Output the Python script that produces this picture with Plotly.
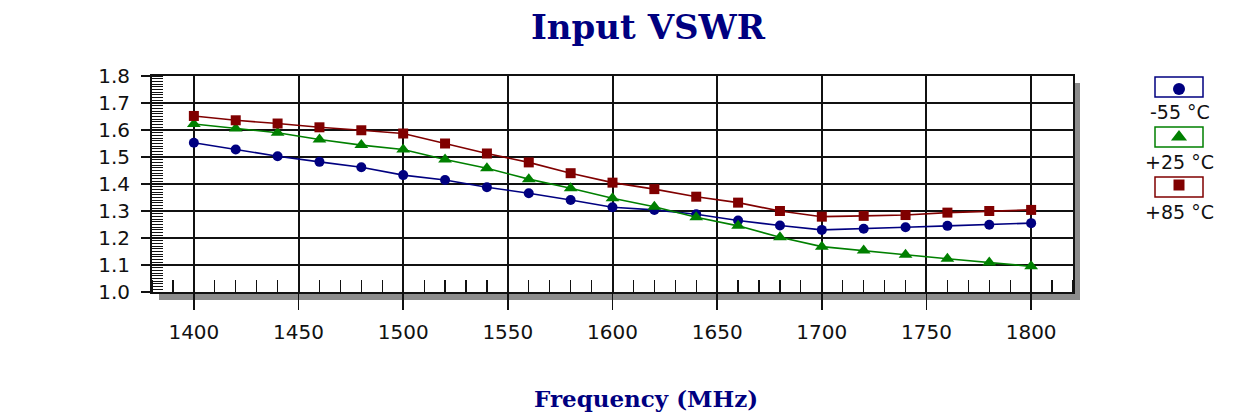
import plotly.graph_objects as go

freq = [1400, 1420, 1440, 1460, 1480, 1500, 1520, 1540, 1560, 1580, 1600,
        1620, 1640, 1660, 1680, 1700, 1720, 1740, 1760, 1780, 1800]
vswr_m55 = [1.553, 1.528, 1.503, 1.482, 1.462, 1.433, 1.415, 1.388, 1.366, 1.341, 1.314,
            1.304, 1.288, 1.265, 1.246, 1.230, 1.234, 1.240, 1.245, 1.249, 1.255]
vswr_p25 = [1.622, 1.606, 1.590, 1.565, 1.544, 1.528, 1.491, 1.458, 1.418, 1.384, 1.347,
            1.316, 1.277, 1.245, 1.203, 1.168, 1.154, 1.138, 1.123, 1.109, 1.095]
vswr_p85 = [1.652, 1.636, 1.624, 1.610, 1.599, 1.587, 1.550, 1.513, 1.480, 1.440, 1.405,
            1.381, 1.353, 1.331, 1.300, 1.279, 1.282, 1.285, 1.294, 1.300, 1.304]
series_names = ["-55 °C", "+25 °C", "+85 °C"]
x_ticks = [1400, 1450, 1500, 1550, 1600, 1650, 1700, 1750, 1800]
y_ticks = [1.0, 1.1, 1.2, 1.3, 1.4, 1.5, 1.6, 1.7, 1.8]

colors = ["#000080", "#008000", "#800000"]
symbols = ["circle", "triangle-up", "square"]
sizes = [10, 12, 10]
legend_sizes = [12, 14, 11]

W, H = 1233, 413
L, R, T, B = 152, 1073, 76, 292  # plot area pixel edges
PR = 1223  # paper right edge
pw, ph = PR - L, B - T


def px(x):
    return (x - L) / pw


def py(y):
    return (B - y) / ph


fig = go.Figure()
for name, vals, c, s, sz in zip(series_names, [vswr_m55, vswr_p25, vswr_p85], colors, symbols, sizes):
    fig.add_trace(go.Scatter(
        x=freq, y=vals, name=name, mode="lines+markers",
        line=dict(color=c, width=1.6),
        marker=dict(symbol=s, size=sz, color=c, opacity=1, line=dict(width=0)),
        showlegend=False, cliponaxis=False,
    ))

shapes = []
# drop shadow
shapes.append(dict(type="rect", xref="paper", yref="paper", layer="below",
                   x0=px(L + 7), x1=px(R + 7), y0=py(B + 8), y1=py(T + 7),
                   fillcolor="#8c8c8c", line=dict(width=0)))
shapes.append(dict(type="rect", xref="paper", yref="paper", layer="below",
                   x0=0, x1=px(R), y0=0, y1=1, fillcolor="white", line=dict(width=0)))

annotations = []
# legend boxes
box_tops = [77, 127, 177]
for i, (name, c) in enumerate(zip(series_names, colors)):
    t = box_tops[i]
    shapes.append(dict(type="rect", xref="paper", yref="paper", layer="below",
                       x0=px(1155), x1=px(1203), y0=py(t + 20), y1=py(t),
                       fillcolor="white", line=dict(color=c, width=1.5)))
    annotations.append(dict(xref="paper", yref="paper", x=px(1179.5), y=py(t + 35),
                            text=name, showarrow=False, xanchor="center", yanchor="middle",
                            font=dict(family="DejaVu Sans", size=19, color="#111")))

# legend markers via a hidden overlay axis
fig.add_trace(go.Scatter(
    x=[0.5, 0.5, 0.5], y=[2, 1, 0], mode="markers", xaxis="x2", yaxis="y2",
    marker=dict(symbol=symbols, size=legend_sizes, color=colors, opacity=1,
                line=dict(width=0)),
    showlegend=False, hoverinfo="skip", cliponaxis=False, opacity=1,
))

# x-axis title
annotations.append(dict(xref="paper", yref="paper", x=px(646), y=py(398),
                        text="<b>Frequency (MHz)</b>", showarrow=False,
                        xanchor="center", yanchor="middle",
                        font=dict(family="DejaVu Serif", size=23, color="#000080")))

fig.update_layout(
    width=W, height=H, autosize=False,
    margin=dict(l=L, r=W - PR, t=T, b=H - B, pad=0),
    paper_bgcolor="white", plot_bgcolor="rgba(0,0,0,0)",
    title=dict(text="<b>Input VSWR</b>", x=648 / W, xref="container", xanchor="center",
               y=1 - 27 / H, yref="container", yanchor="middle",
               font=dict(family="DejaVu Serif", size=34, color="#000080")),
    shapes=shapes, annotations=annotations,
    xaxis=dict(domain=[0, px(R)], range=[1380, 1820], tickvals=x_ticks,
               ticktext=[str(v) for v in x_ticks],
               showgrid=True, gridcolor="#111", gridwidth=2,
               showline=True, linecolor="#111", linewidth=2, mirror=True,
               ticks="outside", ticklen=16, tickwidth=1.5, tickcolor="#111",
               ticklabelstandoff=5,
               minor=dict(dtick=10, tick0=1380, ticks="inside", ticklen=12, tickwidth=1.2,
                          tickcolor="#111", showgrid=False),
               tickfont=dict(family="DejaVu Sans", size=20, color="#111"),
               zeroline=False, fixedrange=True),
    yaxis=dict(range=[1.0, 1.8], tickvals=y_ticks, ticktext=[f"{v:.1f}" for v in y_ticks],
               showgrid=True, gridcolor="#111", gridwidth=2,
               showline=True, linecolor="#111", linewidth=2, mirror=True,
               ticks="outside", ticklen=9, tickwidth=1.5, tickcolor="#111",
               ticklabelstandoff=7,
               minor=dict(dtick=0.01, tick0=1.0, ticks="inside", ticklen=11, tickwidth=1,
                          tickcolor="#111", showgrid=False),
               tickfont=dict(family="DejaVu Sans", size=20, color="#111"),
               zeroline=False, fixedrange=True),
    xaxis2=dict(domain=[px(1155), px(1203)], range=[0, 1], visible=False, fixedrange=True,
                anchor="y2"),
    yaxis2=dict(domain=[py(197), py(77)], range=[-0.25, 2.25], visible=False,
                fixedrange=True, anchor="x2"),
)

fig.write_html("out.html", config={"displayModeBar": False, "staticPlot": True},
               post_script="document.body.style.margin='0';document.body.style.overflow='hidden';")
